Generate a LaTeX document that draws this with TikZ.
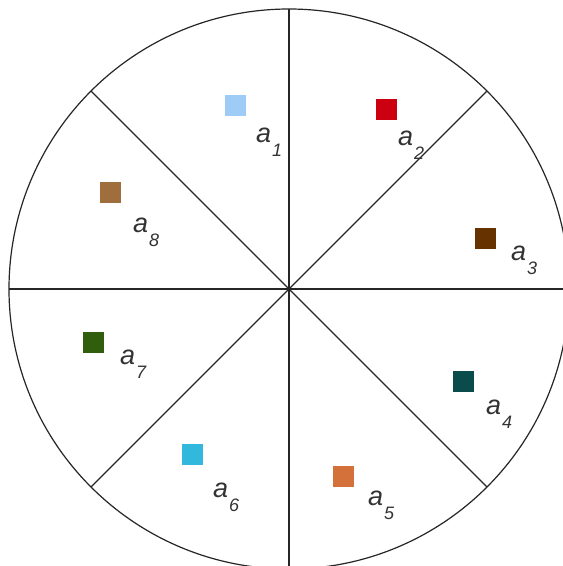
\documentclass[tikz,border=0pt]{standalone}
\usepackage{fontspec}
\setmainfont{Liberation Sans}
\definecolor{ca}{HTML}{9FCBF7}
\definecolor{cb}{HTML}{CC0011}
\definecolor{cc}{HTML}{663300}
\definecolor{cd}{HTML}{0A4B4B}
\definecolor{ce}{HTML}{D4703A}
\definecolor{cf}{HTML}{33B8DD}
\definecolor{cg}{HTML}{2F5E0C}
\definecolor{ch}{HTML}{A06D3C}
\newcommand{\lbl}[1]{a\kern1pt\raisebox{-14pt}{\fontsize{18}{18}\selectfont #1}}
\begin{document}
\begin{tikzpicture}[x=1pt,y=-1pt,
  sq/.style={minimum size=21pt, inner sep=0pt, draw=none},
  lab/.style={anchor=base west, inner sep=0pt, text=black!80, font=\fontsize{27}{27}\selectfont\itshape},
  rim/.style={draw=black!85, line width=1.2pt}]
\useasboundingbox (0,0) rectangle (563,566);
\begin{scope}
\clip (0,0) rectangle (563,566);
\fill[white] (0,0) rectangle (563,566);
\node[circle, rim, minimum size=560pt, inner sep=0pt, outer sep=0pt] (c) at (289,289) {};
\foreach \ang in {0,45,...,315} {\draw[rim] (c.center) -- (c.\ang);}
\end{scope}
\node[sq, fill=ca] (s1) at (235.5,105.5) {};
\node[sq, fill=cb] (s2) at (386,109.5) {};
\node[sq, fill=cc] (s3) at (485.5,238.5) {};
\node[sq, fill=cd] (s4) at (463.5,381) {};
\node[sq, fill=ce] (s5) at (343.5,476) {};
\node[sq, fill=cf] (s6) at (192.5,454) {};
\node[sq, fill=cg] (s7) at (93.5,342.5) {};
\node[sq, fill=ch] (s8) at (110.5,192) {};
\node[lab] (l1) at (256,142) {\lbl{1}};
\node[lab] (l2) at (398,145) {\lbl{2}};
\node[lab] (l3) at (511,260) {\lbl{3}};
\node[lab] (l4) at (486,414) {\lbl{4}};
\node[lab] (l5) at (368,505) {\lbl{5}};
\node[lab] (l6) at (213,497) {\lbl{6}};
\node[lab] (l7) at (120,364) {\lbl{7}};
\node[lab] (l8) at (133,232) {\lbl{8}};
\end{tikzpicture}
\end{document}
